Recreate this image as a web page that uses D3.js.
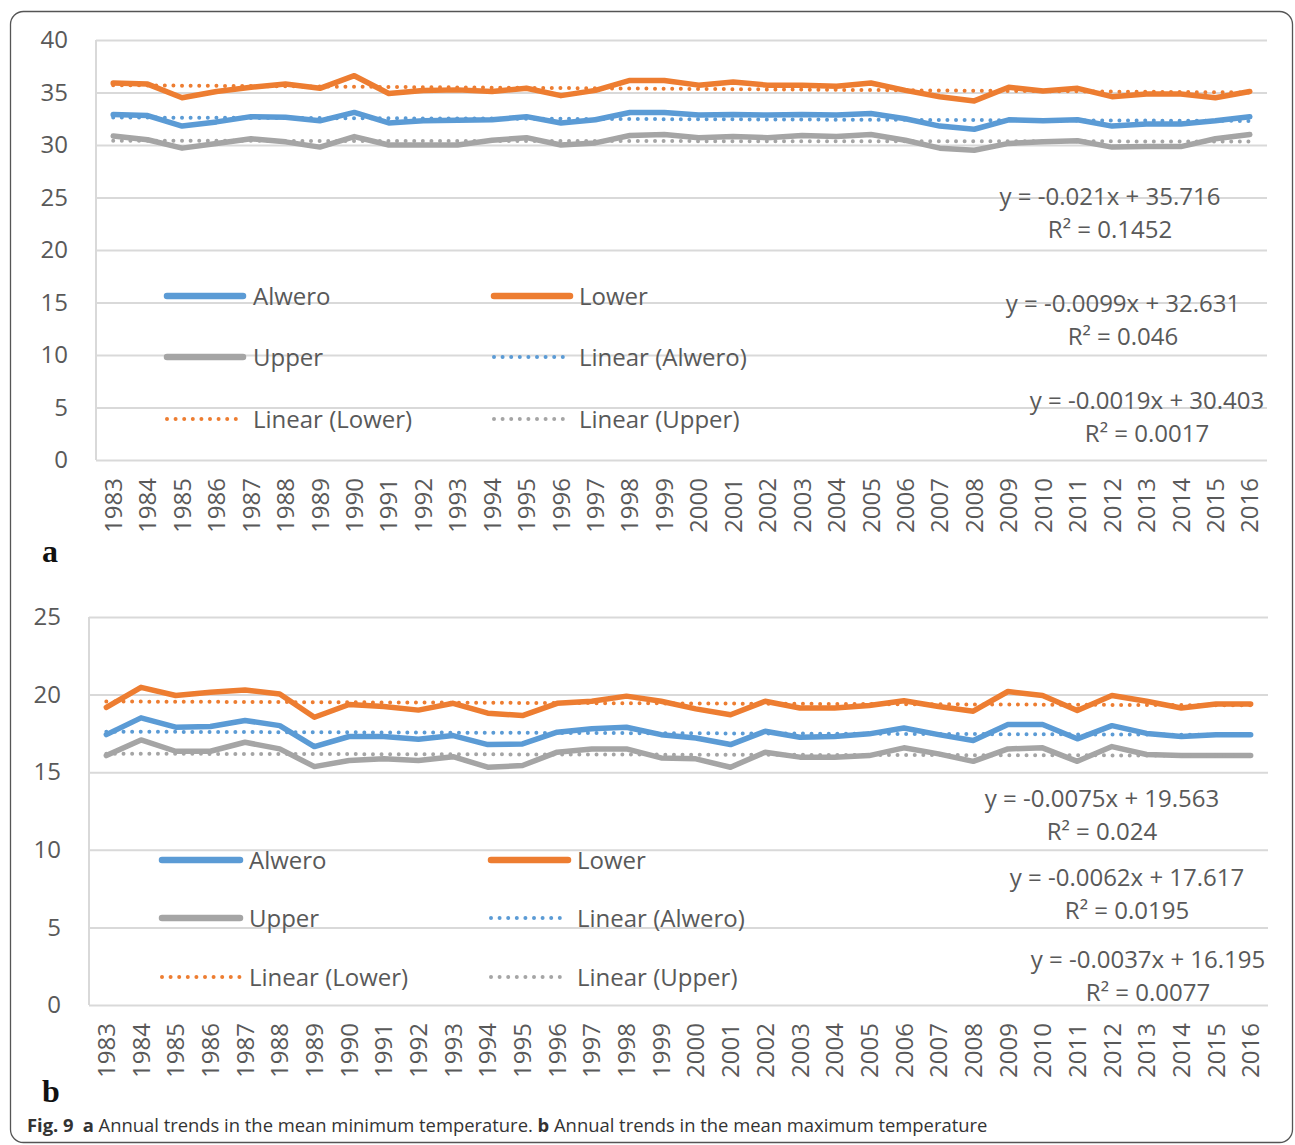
<!DOCTYPE html>
<html>
<head>
<meta charset="utf-8">
<script src="https://cdn.jsdelivr.net/npm/d3@7"></script>
<style>
  body { margin: 0; background: #fff; }
  svg { display: block; font-family: "Open Sans", sans-serif; }
</style>
</head>
<body>
<svg id="fig" width="1295" height="1145"></svg>
<script>
// ---- data -------------------------------------------------------------
const years = [1983, 1984, 1985, 1986, 1987, 1988, 1989, 1990, 1991, 1992,
  1993, 1994, 1995, 1996, 1997, 1998, 1999, 2000, 2001, 2002, 2003, 2004,
  2005, 2006, 2007, 2008, 2009, 2010, 2011, 2012, 2013, 2014, 2015, 2016];

const seriesNames = ["Alwero", "Lower", "Upper"];

// (a) mean minimum temperature
const minAlwero = [32.9, 32.8, 31.8, 32.2, 32.7, 32.65, 32.3, 33.1, 32.1, 32.3,
  32.35, 32.4, 32.7, 32.1, 32.4, 33.1, 33.1, 32.85, 32.9, 32.85, 32.9, 32.85,
  33.0, 32.5, 31.8, 31.5, 32.4, 32.3, 32.4, 31.8, 32.0, 32.0, 32.3, 32.7];
const minLower = [35.9, 35.8, 34.5, 35.1, 35.5, 35.8, 35.4, 36.6, 34.9, 35.2,
  35.25, 35.1, 35.4, 34.7, 35.2, 36.15, 36.15, 35.7, 36.0, 35.7, 35.7, 35.6,
  35.9, 35.2, 34.6, 34.2, 35.5, 35.15, 35.4, 34.6, 34.85, 34.85, 34.5, 35.1];
const minUpper = [30.85, 30.5, 29.7, 30.15, 30.6, 30.3, 29.8, 30.8, 30.0, 30.0,
  30.0, 30.45, 30.7, 30.0, 30.2, 30.9, 31.0, 30.7, 30.8, 30.7, 30.9, 30.8,
  31.0, 30.45, 29.7, 29.5, 30.15, 30.3, 30.4, 29.8, 29.85, 29.85, 30.6, 31.0];

// (b) mean maximum temperature
const maxAlwero = [17.42, 18.5, 17.9, 17.94, 18.33, 18.0, 16.65, 17.3, 17.3, 17.12,
  17.36, 16.78, 16.82, 17.58, 17.8, 17.9, 17.42, 17.2, 16.78, 17.64, 17.25, 17.3,
  17.47, 17.85, 17.42, 17.04, 18.07, 18.07, 17.15, 18.0, 17.5, 17.3, 17.42, 17.42];
const maxLower = [19.18, 20.47, 19.94, 20.15, 20.3, 20.04, 18.54, 19.36, 19.23, 19.0,
  19.44, 18.8, 18.65, 19.44, 19.57, 19.9, 19.57, 19.08, 18.7, 19.57, 19.14, 19.14,
  19.3, 19.6, 19.23, 18.93, 20.2, 19.94, 18.97, 19.94, 19.57, 19.14, 19.4, 19.4];
const maxUpper = [16.07, 17.08, 16.35, 16.35, 16.93, 16.5, 15.36, 15.75, 15.86, 15.75,
  16.0, 15.32, 15.43, 16.29, 16.5, 16.5, 15.92, 15.86, 15.32, 16.29, 15.97, 15.97,
  16.07, 16.57, 16.18, 15.7, 16.5, 16.57, 15.7, 16.65, 16.14, 16.07, 16.07, 16.07];

// linear trend fits (order: Alwero, Lower, Upper); x = 1..34
const minTrendSlope = [-0.0099, -0.021, -0.0019];
const minTrendIntercept = [32.631, 35.716, 30.403];
const minTrendR2 = ["0.046", "0.1452", "0.0017"];
const maxTrendSlope = [-0.0062, -0.0075, -0.0037];
const maxTrendIntercept = [17.617, 19.563, 16.195];
const maxTrendR2 = ["0.0195", "0.024", "0.0077"];

const minTicks = [0, 5, 10, 15, 20, 25, 30, 35, 40];
const maxTicks = [0, 5, 10, 15, 20, 25];

const legendLabels = ["Alwero", "Lower", "Upper", "Linear (Alwero)", "Linear (Lower)", "Linear (Upper)"];
const colors = { Alwero: "#5B9BD5", Lower: "#ED7D31", Upper: "#A5A5A5" };

// ---- layout -----------------------------------------------------------
const TEXT = "#595959", GRID = "#D9D9D9";

const panels = [
  {
    key: "a", left: 96, right: 1267, top: 40, bottom: 460, ymax: 40, ticks: minTicks,
    values: [minAlwero, minLower, minUpper],
    slope: minTrendSlope, intercept: minTrendIntercept, r2: minTrendR2,
    legendRows: [296, 357, 419], legendCols: [[165, 245, 253], [492, 572, 579]],
    // equation label centres, listed top to bottom: Lower, Alwero, Upper
    eq: [{ s: 1, x: 1110, y: 196 }, { s: 0, x: 1123, y: 303 }, { s: 2, x: 1147, y: 400 }],
    label: { x: 50, y: 562 }
  },
  {
    key: "b", left: 89, right: 1268, top: 617, bottom: 1005, ymax: 25, ticks: maxTicks,
    values: [maxAlwero, maxLower, maxUpper],
    slope: maxTrendSlope, intercept: maxTrendIntercept, r2: maxTrendR2,
    legendRows: [860, 918, 977], legendCols: [[160, 242, 249], [489, 570, 577]],
    eq: [{ s: 1, x: 1102, y: 798 }, { s: 0, x: 1127, y: 877 }, { s: 2, x: 1148, y: 959 }],
    label: { x: 51, y: 1102 }
  }
];

const svg = d3.select("#fig");
svg.append("rect").attr("width", 1295).attr("height", 1145).attr("fill", "#fff");

// outer frame
svg.append("rect")
  .attr("x", 10.5).attr("y", 11.5).attr("width", 1282).attr("height", 1131)
  .attr("rx", 13).attr("fill", "none").attr("stroke", "#555").attr("stroke-width", 1.3);

panels.forEach(p => {
  const g = svg.append("g");
  const x = d3.scaleBand().domain(years).range([p.left, p.right]).padding(0);
  const cx = yr => x(yr) + x.bandwidth() / 2;
  const y = d3.scaleLinear().domain([0, p.ymax]).range([p.bottom, p.top]);

  // gridlines + value labels
  const yAxis = g.append("g").attr("transform", `translate(${p.left},0)`)
    .call(d3.axisLeft(y).tickValues(p.ticks).tickSize(-(p.right - p.left)).tickPadding(28));
  yAxis.select(".domain").remove();
  yAxis.selectAll(".tick line").attr("stroke", GRID).attr("stroke-width", 2);
  yAxis.selectAll(".tick text").attr("fill", TEXT).attr("font-size", 24)
    .attr("font-family", "Open Sans, sans-serif");

  // vertical axis line
  g.append("line").attr("x1", p.left).attr("x2", p.left)
    .attr("y1", p.top).attr("y2", p.bottom).attr("stroke", GRID).attr("stroke-width", 2);

  // year labels
  const xAxis = g.append("g").attr("transform", `translate(0,${p.bottom})`)
    .call(d3.axisBottom(x).tickSize(0));
  xAxis.select(".domain").remove();
  xAxis.selectAll(".tick text")
    .attr("transform", "rotate(-90)").attr("text-anchor", "end")
    .attr("x", -18).attr("y", 0).attr("dy", "0.36em")
    .attr("fill", TEXT).attr("font-size", 24).attr("font-family", "Open Sans, sans-serif");

  // trend equations
  p.eq.forEach(e => {
    const s = p.slope[e.s], b = p.intercept[e.s];
    g.append("text").attr("x", e.x).attr("y", e.y).attr("dy", "0.36em")
      .attr("text-anchor", "middle").attr("fill", TEXT).attr("font-size", 24)
      .text(`y = ${s}x + ${b}`);
    g.append("text").attr("x", e.x).attr("y", e.y + 33).attr("dy", "0.36em")
      .attr("text-anchor", "middle").attr("fill", TEXT).attr("font-size", 24)
      .text(`R\u00B2 = ${p.r2[e.s]}`);
  });

  // series lines
  const line = d3.line().x((d, i) => cx(years[i])).y(d => y(d));
  seriesNames.forEach((name, k) => {
    g.append("path").datum(p.values[k])
      .attr("d", line).attr("fill", "none")
      .attr("stroke", colors[name]).attr("stroke-width", 5.5)
      .attr("stroke-linejoin", "round").attr("stroke-linecap", "round");
  });

  // linear trend lines (dotted), over the data
  seriesNames.forEach((name, k) => {
    const trend = years.map((yr, i) => p.slope[k] * (i + 1) + p.intercept[k]);
    g.append("path").datum(trend)
      .attr("d", line).attr("fill", "none")
      .attr("stroke", colors[name]).attr("stroke-width", 4)
      .attr("stroke-linecap", "round").attr("stroke-dasharray", "0 8.6");
  });

  // legend: 3 rows x 2 columns
  legendLabels.forEach((lab, i) => {
    const row = Math.floor(i / 2), col = i % 2;
    const [x0, x1, tx] = p.legendCols[col];
    const ly = p.legendRows[row];
    const name = lab.replace(/^Linear \((.*)\)$/, "$1");
    const dotted = lab.startsWith("Linear");
    g.append("line").attr("x1", x0 + 2).attr("x2", x1 - 2).attr("y1", ly).attr("y2", ly)
      .attr("stroke", colors[name])
      .attr("stroke-width", dotted ? 4 : 6.5)
      .attr("stroke-linecap", "round")
      .attr("stroke-dasharray", dotted ? "0 8.6" : null);
    g.append("text").attr("x", tx).attr("y", ly).attr("dy", "0.36em")
      .attr("fill", TEXT).attr("font-size", 24).text(lab);
  });

  // panel letter
  g.append("text").attr("x", p.label.x).attr("y", p.label.y)
    .attr("text-anchor", "middle")
    .attr("font-family", "Liberation Serif, DejaVu Serif, serif")
    .attr("font-weight", "bold").attr("font-size", 32).attr("fill", "#111")
    .text(p.key);
});

// caption
const cap = svg.append("text").attr("x", 27).attr("y", 1132)
  .attr("font-size", 18.4).attr("fill", "#333");
cap.append("tspan").attr("font-weight", "bold").text("Fig. 9");
cap.append("tspan").attr("font-weight", "bold").attr("dx", 9).text("a");
cap.append("tspan").text(" Annual trends in the mean minimum temperature. ");
cap.append("tspan").attr("font-weight", "bold").text("b");
cap.append("tspan").text(" Annual trends in the mean maximum temperature");
</script>
</body>
</html>
